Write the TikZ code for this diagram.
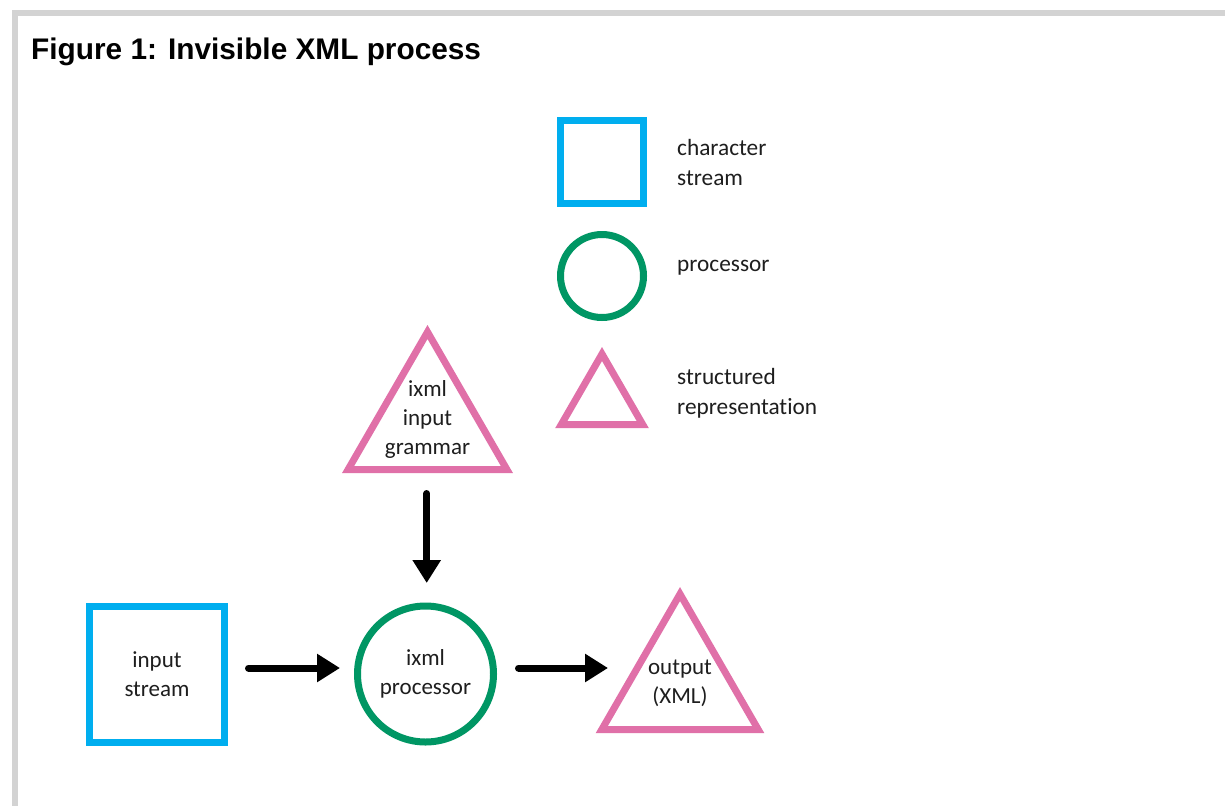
\documentclass[tikz,border=0pt]{standalone}
\usepackage{fontspec}
\setmainfont{Carlito}[Ligatures=NoCommon]
\newfontfamily\titlefont{Liberation Sans}
\usetikzlibrary{shapes.geometric,arrows.meta}
\definecolor{cyanb}{RGB}{0,174,239}
\definecolor{greenp}{RGB}{0,150,100}
\definecolor{pinkr}{RGB}{224,112,168}
\definecolor{framegray}{RGB}{211,211,211}
\definecolor{txt}{RGB}{30,30,30}
\begin{document}
\begin{tikzpicture}[x=1pt,y=-1pt,
  sq/.style={draw=cyanb,line width=7pt,rectangle,inner sep=0pt,outer sep=0pt},
  pc/.style={draw=greenp,line width=7pt,circle,inner sep=0pt,outer sep=0pt},
  tri/.style={draw=pinkr,line width=7pt,regular polygon,regular polygon sides=3,inner sep=0pt,outer sep=0pt},
  lbl/.style={font=\fontsize{23}{29}\selectfont,text=txt,align=center,inner sep=0pt},
  leg/.style={font=\fontsize{23.3}{30}\selectfont,text=txt,align=left,inner sep=0pt,anchor=west},
  arr/.style={line width=7pt,line cap=round,-{Triangle[length=23pt,width=27pt]}}]
\useasboundingbox (0,0) rectangle (1225,806);
\fill[white] (0,0) rectangle (1225,806);
% frame
\fill[framegray] (12,10) rectangle (1225,16);
\fill[framegray] (12,10) rectangle (18,806);
% title
\node[anchor=base west,inner sep=0pt,font=\titlefont\bfseries\fontsize{29.8}{34}\selectfont] (title) at (31,59.3) {Figure 1: Invisible XML process};
% legend
\node[sq,minimum width=83pt,minimum height=83pt] (lsq) at (602,162) {};
\node[leg] (lsqt) at (677,162) {character\\stream};
\node[pc,minimum size=83pt] (lci) at (602,276) {};
\node[leg] (lcit) at (677,268) {processor};
\node[tri,minimum size=94pt] (ltr) at (602,401) {};
\node[leg] (ltrt) at (677,393) {structured\\representation};
% diagram
\node[tri,minimum size=183.4pt] (gram) at (427.5,423.7) {};
\node[lbl] (gramt) at (427.5,419) {ixml\\input\\grammar};
\node[sq,minimum width=135pt,minimum height=136pt,lbl] (in) at (157,674.5) {input\\stream};
\node[pc,minimum size=136pt,lbl] (pr) at (425.5,674) {ixml\\processor};
\node[tri,minimum size=180.7pt] (out) at (680,684.4) {};
\node[lbl] (outt) at (680,683) {output\\(XML)};
% arrows
\draw[arr] ([xshift=-0.8pt,yshift=-69.8pt]gram.center) -- ([xshift=1.2pt,yshift=23pt]pr.north);
\draw[arr] ([xshift=24pt,yshift=6.5pt]in.east) -- ([xshift=-17.5pt,yshift=6pt]pr.west);
\draw[arr] ([xshift=25pt,yshift=6pt]pr.east) -- ([xshift=-72pt,yshift=16.4pt]out.center);
\end{tikzpicture}
\end{document}
